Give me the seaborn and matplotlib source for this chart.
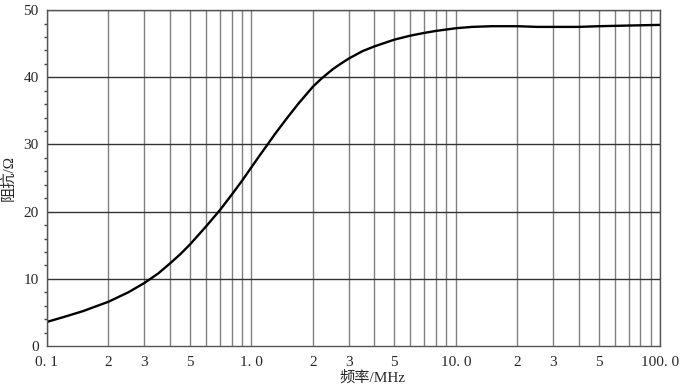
import numpy as np
import pandas as pd
import matplotlib
matplotlib.use("Agg")
import matplotlib.pyplot as plt
import seaborn as sns
from matplotlib.ticker import FixedLocator, FixedFormatter, MultipleLocator

# data
freq_mhz = [0.1, 0.12, 0.15, 0.2, 0.25, 0.3, 0.35, 0.4, 0.45, 0.5, 0.6, 0.7, 0.8, 0.9,
            1.0, 1.1, 1.2, 1.3, 1.5, 1.7, 2.0, 2.2, 2.5, 2.7, 3.0, 3.5, 4.0, 5.0,
            6.0, 7.0, 8.0, 10.0, 12.0, 15.0, 20.0, 25.0, 30.0, 40.0, 50.0, 70.0, 100.0]
impedance = [3.6, 4.3, 5.2, 6.6, 8.0, 9.4, 10.8, 12.3, 13.7, 15.1, 17.8, 20.2, 22.5, 24.6,
             26.6, 28.4, 30.0, 31.5, 34.0, 36.1, 38.6, 39.8, 41.2, 41.9, 42.8, 43.9, 44.6, 45.6,
             46.2, 46.6, 46.9, 47.3, 47.5, 47.6, 47.6, 47.5, 47.5, 47.5, 47.6, 47.7, 47.8]

xtick_pos = [0.1, 0.2, 0.3, 0.5, 1.0, 2.0, 3.0, 5.0, 10.0, 20.0, 30.0, 50.0, 100.0]
xtick_lbl = ["0. 1", "2", "3", "5", "1. 0", "2", "3", "5", "10. 0", "2", "3", "5", "100. 0"]

df = pd.DataFrame({"f": freq_mhz, "z": impedance})

sns.set_style("white")
plt.rcParams["font.family"] = ["Liberation Serif", "Noto Sans CJK SC"]

fig = plt.figure(figsize=(6.8, 3.88), dpi=100)
ax = fig.add_axes([0.069, 0.108, 0.902, 0.866])

sns.lineplot(data=df, x="f", y="z", ax=ax, color="black", linewidth=1.7)

ax.set_xscale("log")
ax.set_xlim(0.1, 100)
ax.set_ylim(0, 50)

# vertical grid at every 1..9 within each decade
vlines = [m * 10.0 ** d for d in (-1, 0, 1) for m in range(1, 10)] + [100.0]
for v in vlines:
    ax.axvline(v, color="#808080", linewidth=1.0, zorder=0)
for h in range(10, 51, 10):
    ax.axhline(h, color="#333333", linewidth=1.0, zorder=0)

ax.xaxis.set_major_locator(FixedLocator(xtick_pos))
ax.xaxis.set_major_formatter(FixedFormatter(xtick_lbl))
ax.xaxis.set_minor_locator(FixedLocator([]))
ax.yaxis.set_major_locator(MultipleLocator(10))
ax.yaxis.set_minor_locator(MultipleLocator(2))

ax.tick_params(axis="x", which="major", direction="out", length=5, width=1,
               color="#444444", labelsize=11, pad=2)
ax.tick_params(axis="y", which="major", direction="out", length=5, width=1,
               color="#444444", labelsize=11, pad=1)
ax.tick_params(axis="y", which="minor", direction="out", length=2.5, width=1,
               color="#444444", left=True)
ax.tick_params(axis="x", which="minor", bottom=False)

for s in ax.spines.values():
    s.set_color("#555555")
    s.set_linewidth(1.0)

ax.set_xlabel("频率/MHz", fontsize=11, labelpad=0)
ax.xaxis.set_label_coords(0.53, -0.072)
ax.set_ylabel("阻抗/Ω", fontsize=11, labelpad=6)

fig.savefig("out.png", dpi=100)
